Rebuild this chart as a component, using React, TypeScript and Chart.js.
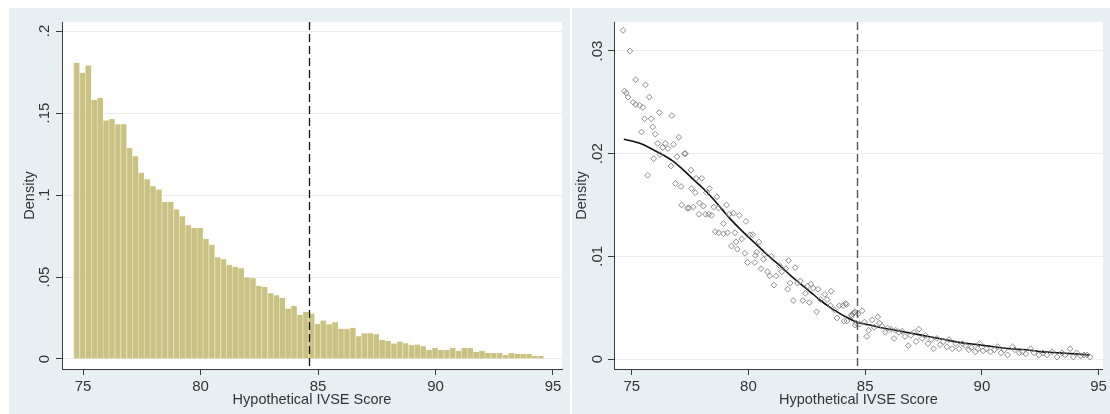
import React, { useEffect, useRef } from 'react';
import { Chart, registerables } from 'chart.js';
Chart.register(...registerables);

const FONT = '"Liberation Sans", Arial, sans-serif';
const PANEL_BG = '#e8eff2';
const TEXT = '#333333';
const AXIS = '#3a3a3a';
const GRID = '#ececec';

const X_TITLE = 'Hypothetical IVSE Score';
const Y_TITLE = 'Density';

const X_TICKS = [75, 80, 85, 90, 95];
const X_TICK_LABELS = ['75', '80', '85', '90', '95'];
const LEFT_Y_TICKS = [0, 0.05, 0.1, 0.15, 0.2];
const LEFT_Y_LABELS = ['0', '.05', '.1', '.15', '.2'];
const RIGHT_Y_TICKS = [0, 0.01, 0.02, 0.03];
const RIGHT_Y_LABELS = ['0', '.01', '.02', '.03'];

const CUTOFF = 84.63;

// Histogram: 80 bins of width 0.25 starting at 74.6
const BIN_START = 74.6;
const BIN_WIDTH = 0.25;
const HIST_DENSITY = [
  0.1806, 0.1745, 0.179, 0.158, 0.1593, 0.1455, 0.1465, 0.1431, 0.1431, 0.1287,
  0.1236, 0.1135, 0.1096, 0.1054, 0.1034, 0.0957, 0.0957, 0.0912, 0.0871, 0.0815,
  0.0799, 0.0799, 0.0732, 0.0697, 0.062, 0.0608, 0.0574, 0.0563, 0.0553, 0.0497,
  0.0492, 0.0446, 0.044, 0.0401, 0.0389, 0.0373, 0.0308, 0.0324, 0.0268, 0.0286,
  0.0277, 0.0214, 0.0235, 0.0212, 0.0224, 0.0184, 0.0184, 0.019, 0.0139, 0.0157,
  0.0157, 0.0151, 0.0116, 0.011, 0.0094, 0.0106, 0.0096, 0.0084, 0.0088, 0.0078,
  0.0055, 0.0067, 0.0055, 0.0055, 0.0067, 0.0049, 0.0067, 0.0067, 0.0043, 0.0051,
  0.0037, 0.0037, 0.0037, 0.0024, 0.0037, 0.0031, 0.0031, 0.0031, 0.0018, 0.0018,
];
const BIN_CENTERS = HIST_DENSITY.map((_, i) => BIN_START + BIN_WIDTH * (i + 0.5));

// Binned density scatter (right panel)
const SCATTER_X = [
  74.63, 74.69, 74.77, 74.84, 74.92, 75.06, 75.17, 75.17, 75.34, 75.42, 75.48, 75.55, 75.59, 75.68, 75.75,
  75.83, 75.9, 75.94, 76.01, 76.11, 76.18, 76.21, 76.32, 76.44, 76.55, 76.68, 76.72, 76.79, 76.87, 76.94,
  77.02, 77.11, 77.14, 77.26, 77.3, 77.38, 77.45, 77.54, 77.56, 77.64, 77.72, 77.76, 77.88, 77.9, 78.0,
  78.07, 78.16, 78.2, 78.3, 78.33, 78.42, 78.51, 78.58, 78.65, 78.72, 78.72, 78.93, 78.93, 79.06, 79.1,
  79.17, 79.27, 79.36, 79.42, 79.47, 79.52, 79.61, 79.71, 79.85, 79.89, 79.96, 80.07, 80.18, 80.27, 80.3,
  80.35, 80.45, 80.54, 80.64, 80.69, 80.81, 80.91, 80.98, 81.09, 81.19, 81.33, 81.43, 81.6, 81.68, 81.72,
  81.79, 81.92, 82.0, 82.1, 82.22, 82.33, 82.44, 82.53, 82.61, 82.67, 82.78, 82.92, 82.98, 83.09, 83.27,
  83.37, 83.51, 83.54, 83.68, 83.79, 83.89, 84.05, 84.1, 84.16, 84.2, 84.22, 84.41, 84.43, 84.48, 84.53,
  84.55, 84.57, 84.62, 84.69, 84.76, 84.87, 84.97, 85.07, 85.15, 85.3, 85.39, 85.54, 85.61, 85.72, 85.86,
  85.96, 86.1, 86.24, 86.31, 86.45, 86.59, 86.71, 86.85, 86.95, 87.09, 87.18, 87.3, 87.44, 87.58, 87.69,
  87.83, 87.93, 88.07, 88.21, 88.35, 88.5, 88.59, 88.73, 88.88, 89.02, 89.16, 89.3, 89.44, 89.55, 89.72,
  89.83, 89.9, 90.05, 90.19, 90.37, 90.54, 90.68, 90.82, 90.96, 91.1, 91.31, 91.41, 91.6, 91.74, 91.88,
  92.09, 92.23, 92.44, 92.62, 92.79, 93.01, 93.22, 93.43, 93.57, 93.78, 93.92, 94.06, 94.23, 94.37, 94.51,
  94.63,
];
const SCATTER_Y = [
  0.032, 0.0261, 0.0259, 0.0255, 0.03, 0.025, 0.0272, 0.0248, 0.0247, 0.0221, 0.0245, 0.0234, 0.0267, 0.0179, 0.0255,
  0.0234, 0.0226, 0.0195, 0.0219, 0.021, 0.024, 0.0199, 0.0206, 0.021, 0.0205, 0.0188, 0.0237, 0.0209, 0.0171, 0.0197,
  0.0216, 0.0168, 0.015, 0.02, 0.02, 0.0147, 0.0147, 0.0184, 0.0166, 0.0148, 0.0162, 0.0176, 0.0141, 0.0152, 0.0176,
  0.0149, 0.0141, 0.0162, 0.0141, 0.0166, 0.014, 0.0148, 0.0124, 0.0158, 0.0147, 0.0123, 0.0132, 0.0122, 0.015, 0.0123,
  0.0141, 0.011, 0.0142, 0.0123, 0.0114, 0.0107, 0.014, 0.0117, 0.0103, 0.0134, 0.0094, 0.0121, 0.0121, 0.0094, 0.0101,
  0.0104, 0.0114, 0.0088, 0.0097, 0.0102, 0.0085, 0.0081, 0.01, 0.0072, 0.0081, 0.0091, 0.0085, 0.0088, 0.0068, 0.0096,
  0.0074, 0.0057, 0.0089, 0.0074, 0.0076, 0.0057, 0.0064, 0.0071, 0.0055, 0.0073, 0.0069, 0.0046, 0.0068, 0.0058, 0.0063,
  0.0058, 0.0052, 0.0066, 0.0048, 0.004, 0.0052, 0.0052, 0.0037, 0.0054, 0.0053, 0.0037, 0.0043, 0.0042, 0.0044, 0.0045,
  0.0046, 0.0033, 0.0035, 0.0044, 0.0034, 0.0047, 0.0036, 0.0022, 0.0028, 0.0038, 0.0031, 0.0041, 0.0035, 0.0032, 0.0026,
  0.003, 0.0029, 0.002, 0.0028, 0.0026, 0.0027, 0.0022, 0.0013, 0.0023, 0.0026, 0.0017, 0.0029, 0.002, 0.0023, 0.0015,
  0.0019, 0.001, 0.002, 0.0014, 0.0017, 0.0012, 0.0019, 0.001, 0.0015, 0.001, 0.0015, 0.0013, 0.0009, 0.0011, 0.0007,
  0.001, 0.0015, 0.0008, 0.001, 0.0007, 0.0009, 0.0012, 0.0006, 0.0009, 0.0004, 0.0012, 0.0009, 0.0006, 0.0007, 0.0005,
  0.001, 0.0006, 0.0004, 0.0006, 0.0004, 0.0007, 0.0002, 0.0006, 0.0004, 0.001, 0.0002, 0.0006, 0.0003, 0.0004, 0.0004,
  0.0002,
];

// Smoothed (lowess) curve
const LOWESS_X = [
  74.66, 75.06, 75.48, 75.9, 76.32, 76.75, 77.17, 77.59, 78.02, 78.44, 78.86, 79.28, 79.71, 80.13, 80.55,
  80.98, 81.4, 81.82, 82.24, 82.67, 83.09, 83.51, 83.94, 84.36, 84.62, 85.0, 85.6, 86.3, 87.0, 87.7,
  88.4, 89.1, 89.8, 90.5, 91.2, 91.9, 92.6, 93.3, 94.0, 94.6,
];
const LOWESS_Y = [
  0.0214, 0.0212, 0.0209, 0.0204, 0.0199, 0.0193, 0.0185, 0.0176, 0.0167, 0.0157, 0.0146, 0.0135, 0.0125, 0.0116, 0.0107,
  0.0098, 0.009, 0.0081, 0.0073, 0.0065, 0.0057, 0.005, 0.0044, 0.0039, 0.0036, 0.0034, 0.0031, 0.0028, 0.0025, 0.0022,
  0.0019, 0.0016, 0.0014, 0.0012, 0.001, 0.0009, 0.0007, 0.0006, 0.0005, 0.0004,
];

const panelPlugin = {
  id: 'panelBg',
  beforeDraw(chart: any) {
    const { ctx, chartArea, width, height } = chart;
    ctx.save();
    ctx.fillStyle = PANEL_BG;
    ctx.fillRect(0, 0, width, height);
    ctx.fillStyle = '#ffffff';
    ctx.fillRect(chartArea.left, chartArea.top, chartArea.right - chartArea.left, chartArea.bottom - chartArea.top);
    ctx.restore();
  },
};

const cutoffPlugin = {
  id: 'cutoff',
  afterDatasetsDraw(chart: any, _args: any, opts: any) {
    const { ctx, chartArea, scales } = chart;
    const px = Math.round(scales.x.getPixelForValue(opts.value)) + 0.5;
    ctx.save();
    ctx.strokeStyle = opts.color;
    ctx.lineWidth = opts.width;
    ctx.setLineDash(opts.dash);
    ctx.beginPath();
    ctx.moveTo(px, chartArea.top);
    ctx.lineTo(px, chartArea.bottom);
    ctx.stroke();
    ctx.restore();
  },
};

function xScale(min: number, max: number, height: number) {
  return {
    type: 'linear',
    min,
    max,
    offset: false,
    afterBuildTicks: (s: any) => {
      s.ticks = X_TICKS.map((v) => ({ value: v }));
    },
    afterFit: (s: any) => {
      s.height = height;
    },
    ticks: {
      autoSkip: false,
      maxRotation: 0,
      minRotation: 0,
      padding: 3,
      color: TEXT,
      font: { family: FONT, size: 15 },
      callback: (_v: any, i: number) => X_TICK_LABELS[i],
    },
    grid: { offset: false, drawOnChartArea: false, drawTicks: true, tickLength: 6, tickColor: AXIS, tickWidth: 1 },
    border: { display: true, color: AXIS, width: 1 },
    title: {
      display: true,
      text: X_TITLE,
      color: TEXT,
      font: { family: FONT, size: 14.5 },
      padding: { top: 0, bottom: 5.3 },
    },
  };
}

function yScale(min: number, max: number, width: number, ticks: number[], labels: string[], titlePad: number, tickPad: number) {
  return {
    type: 'linear',
    min,
    max,
    afterBuildTicks: (s: any) => {
      s.ticks = ticks.map((v) => ({ value: v }));
    },
    afterFit: (s: any) => {
      s.width = width;
    },
    ticks: {
      autoSkip: false,
      minRotation: 90,
      maxRotation: 90,
      crossAlign: 'center',
      padding: tickPad,
      color: TEXT,
      font: { family: FONT, size: 15 },
      callback: (_v: any, i: number) => labels[i],
    },
    grid: { drawOnChartArea: true, color: GRID, lineWidth: 1, drawTicks: true, tickLength: 6, tickColor: AXIS, tickWidth: 1 },
    border: { display: true, color: AXIS, width: 1 },
    title: {
      display: true,
      text: Y_TITLE,
      color: TEXT,
      font: { family: FONT, size: 14.5 },
      padding: { top: titlePad, bottom: 0 },
    },
  };
}

export default function App() {
  const leftRef = useRef<HTMLCanvasElement | null>(null);
  const rightRef = useRef<HTMLCanvasElement | null>(null);

  useEffect(() => {
    const left = new Chart(leftRef.current as HTMLCanvasElement, {
      type: 'bar',
      data: {
        datasets: [
          {
            data: BIN_CENTERS.map((x, i) => ({ x, y: HIST_DENSITY[i] })),
            backgroundColor: '#cac284',
            borderColor: '#e3ddb0',
            borderWidth: { left: 1, right: 0, top: 0, bottom: 0 },
            borderSkipped: 'start',
            categoryPercentage: 1,
            barPercentage: 1,
          } as any,
        ],
      },
      options: {
        animation: false,
        responsive: false,
        maintainAspectRatio: false,
        devicePixelRatio: 1,
        events: [],
        layout: { padding: { top: 14, right: 8, left: 0, bottom: 0 } },
        plugins: {
          legend: { display: false },
          tooltip: { enabled: false },
          cutoff: { value: CUTOFF, color: '#111111', width: 1.3, dash: [8, 4] },
        } as any,
        scales: {
          x: xScale(74.106, 95.383, 45),
          y: yScale(-0.0061, 0.2055, 53, LEFT_Y_TICKS, LEFT_Y_LABELS, 12.3, 0.6),
        } as any,
      },
      plugins: [panelPlugin, cutoffPlugin],
    });

    const right = new Chart(rightRef.current as HTMLCanvasElement, {
      type: 'scatter',
      data: {
        datasets: [
          {
            data: SCATTER_X.map((x, i) => ({ x, y: SCATTER_Y[i] })),
            pointStyle: 'rectRot',
            pointRadius: 2.9,
            pointBorderWidth: 0.9,
            pointBorderColor: '#808080',
            pointBackgroundColor: 'rgba(0,0,0,0)',
            showLine: false,
          } as any,
          {
            data: LOWESS_X.map((x, i) => ({ x, y: LOWESS_Y[i] })),
            showLine: true,
            borderColor: '#111111',
            borderWidth: 1.6,
            pointRadius: 0,
            cubicInterpolationMode: 'monotone',
          } as any,
        ],
      },
      options: {
        animation: false,
        responsive: false,
        maintainAspectRatio: false,
        devicePixelRatio: 1,
        events: [],
        layout: { padding: { top: 14, right: 0, left: 0, bottom: 0 } },
        plugins: {
          legend: { display: false },
          tooltip: { enabled: false },
          cutoff: { value: CUTOFF, color: '#555555', width: 1.4, dash: [8, 4] },
        } as any,
        scales: {
          x: xScale(74.24, 95.18, 45),
          y: yScale(-0.00097, 0.03282, 42, RIGHT_Y_TICKS, RIGHT_Y_LABELS, 1.3, 0),
        } as any,
      },
      plugins: [panelPlugin, cutoffPlugin],
    });

    return () => {
      left.destroy();
      right.destroy();
    };
  }, []);

  return (
    <div style={{ position: 'absolute', left: 0, top: 0, width: 1110, height: 414, overflow: 'hidden', background: '#ffffff' }}>
      <div style={{ position: 'absolute', left: 9, top: 8, width: 561, height: 406 }}>
        <canvas ref={leftRef} width={561} height={406} />
      </div>
      <div style={{ position: 'absolute', left: 572, top: 8, width: 538, height: 406 }}>
        <canvas ref={rightRef} width={538} height={406} />
      </div>
    </div>
  );
}
